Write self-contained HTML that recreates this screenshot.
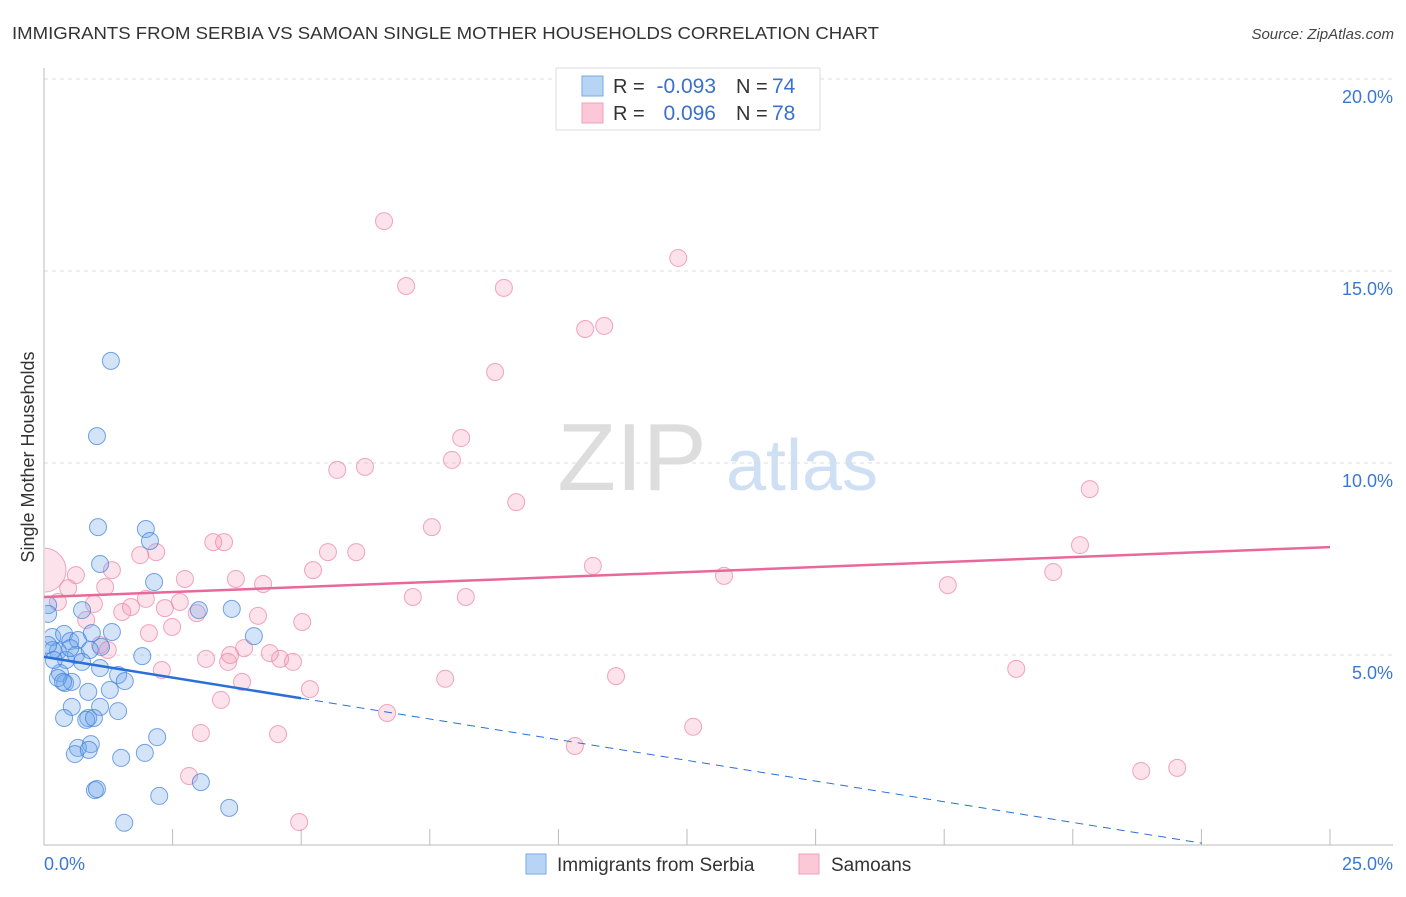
<!DOCTYPE html>
<html><head><meta charset="utf-8"><style>
body{margin:0;background:#fff;font-family:"Liberation Sans",sans-serif;}
svg text{font-family:"Liberation Sans",sans-serif;}
</style></head><body>
<svg id="chart" width="1406" height="892" xmlns="http://www.w3.org/2000/svg">
<defs><clipPath id="plotclip"><rect x="45" y="60" width="1360" height="785"/></clipPath></defs>
<text x="12" y="39" font-size="17.5" fill="#333" textLength="867" lengthAdjust="spacingAndGlyphs">IMMIGRANTS FROM SERBIA VS SAMOAN SINGLE MOTHER HOUSEHOLDS CORRELATION CHART</text>
<text x="1394" y="39" font-size="15" fill="#444" font-style="italic" text-anchor="end">Source: ZipAtlas.com</text>
<g>
<text x="632" y="490" font-size="96" fill="#ddd" font-family="Liberation Serif,serif" text-anchor="middle">ZIP</text>
<text x="802" y="490" font-size="72" fill="#cfe0f5" text-anchor="middle">atlas</text>
</g>
<g id="grid"></g>
<g id="axes"></g>
<g id="points" clip-path="url(#plotclip)"></g>
<g id="lines"></g>
<text transform="translate(34,457) rotate(-90)" font-size="18" fill="#333" text-anchor="middle">Single Mother Households</text>
<g>
<rect x="556" y="68" width="264" height="62" fill="#fff" stroke="#ddd"/>
<rect x="582" y="76" width="21" height="20" fill="#b8d4f5" stroke="#7aaae8"/>
<rect x="582" y="103" width="21" height="20" fill="#fcc8d8" stroke="#f0a0b8"/>
<text x="613" y="93" font-size="20" fill="#333">R =</text>
<text x="716" y="93" font-size="21" fill="#3a70d0" text-anchor="end">-0.093</text>
<text x="736" y="93" font-size="20" fill="#333">N =</text>
<text x="772" y="93" font-size="21" fill="#3a70d0">74</text>
<text x="613" y="120" font-size="20" fill="#333">R =</text>
<text x="716" y="120" font-size="21" fill="#3a70d0" text-anchor="end">0.096</text>
<text x="736" y="120" font-size="20" fill="#333">N =</text>
<text x="772" y="120" font-size="21" fill="#3a70d0">78</text>
</g>
<g>
<rect x="526" y="854" width="20" height="20" fill="#b8d4f5" stroke="#7aaae8"/>
<text x="557" y="871" font-size="19" fill="#333">Immigrants from Serbia</text>
<rect x="799" y="854" width="20" height="20" fill="#fcc8d8" stroke="#f0a0b8"/>
<text x="831" y="871" font-size="19" fill="#333">Samoans</text>
</g>
</svg>
<script>
const yTicks=[5,10,15,20];
const yTickLabels=["5.0%","10.0%","15.0%","20.0%"];
const xTickVals=[0,2.5,5,7.5,10,12.5,15,17.5,20,22.5,25];
const xEndLabels=["0.0%","25.0%"];
const serbiaX=[1.30,1.03,1.05,1.98,2.06,1.09,2.14,0.74,3.01,3.65,0.08,1.32,4.08,0.16,0.39,0.51,0.66,0.93,1.11,0.27,0.62,0.89,0.17,1.91,0.43,0.74,1.09,1.44,1.57,0.31,0.41,0.54,0.86,0.27,0.37,0.08,1.09,1.44,0.54,0.86,0.82,0.39,0.97,2.20,0.91,0.66,0.60,0.87,1.50,1.96,0.99,1.03,2.24,3.05,1.56,3.60,0.08,0.19,0.51,1.28];
const serbiaY=[12.66,10.70,8.33,8.28,7.97,7.37,6.90,6.17,6.17,6.20,6.30,5.60,5.49,5.47,5.55,5.36,5.39,5.57,5.21,5.10,5.00,5.13,5.13,4.97,4.87,4.82,4.66,4.48,4.32,4.53,4.27,4.30,4.04,4.40,4.30,5.26,3.65,3.54,3.65,3.36,3.31,3.36,3.36,2.86,2.68,2.58,2.42,2.53,2.32,2.45,1.48,1.51,1.33,1.69,0.63,1.02,6.07,4.87,5.18,4.09];
const samoanX=[6.61,12.33,7.04,8.94,10.89,10.52,8.77,8.11,7.93,5.70,6.24,20.33,9.18,7.54,20.14,3.29,3.50,1.87,2.18,5.52,6.07,10.67,5.23,19.62,13.22,0.62,1.32,2.74,3.73,4.26,17.57,1.19,7.17,8.20,0.47,0.27,0.97,1.98,2.64,1.69,2.35,1.52,2.97,4.16,5.02,2.04,2.49,1.09,3.89,4.39,4.59,4.84,3.15,3.58,2.29,18.90,11.12,7.80,3.85,5.17,3.44,6.67,3.05,4.55,12.62,10.32,2.82,21.33,22.03,4.96,0.82,1.24,3.62,0.0];
const samoanY=[16.30,15.34,14.61,14.56,13.57,13.49,12.37,10.65,10.08,9.82,9.90,9.32,8.98,8.33,7.86,7.94,7.94,7.60,7.68,7.68,7.68,7.32,7.21,7.16,7.06,7.08,7.21,6.98,6.98,6.85,6.82,6.77,6.51,6.51,6.74,6.38,6.33,6.46,6.38,6.25,6.22,6.12,6.09,6.02,5.86,5.57,5.73,5.26,5.18,5.05,4.90,4.82,4.90,4.82,4.61,4.64,4.45,4.38,4.30,4.11,3.83,3.49,2.97,2.94,3.13,2.63,1.85,1.98,2.06,0.65,5.91,5.13,5.00,7.21];
const serbiaFit=[4.95,-0.2155];
const samoanFit=[6.51,0.052];
const NS="http://www.w3.org/2000/svg";
const sx=v=>44+v/25*1286;
const sy=v=>847-v*38.4;
function mk(tag,attrs,parent){const e=document.createElementNS(NS,tag);for(const k in attrs)e.setAttribute(k,attrs[k]);parent.appendChild(e);return e;}
const grid=document.getElementById('grid'),axes=document.getElementById('axes'),pts=document.getElementById('points'),lines=document.getElementById('lines');
yTicks.forEach((t,i)=>{
 const l=mk('line',{x1:44,x2:1393,y1:sy(t),y2:sy(t),stroke:'#ddd','stroke-dasharray':'4,4'},grid);
 
 
 const tx=mk('text',{x:1393,y:sy(t)+24,'font-size':18,fill:'#3a78d8','text-anchor':'end'},axes);
 tx.textContent=yTickLabels[i];
 
 
});
const ax=mk('line',{x1:44,x2:1393,y1:845,y2:845,stroke:'#bbb'},axes);


const ay=mk('line',{x1:44,x2:44,y1:68,y2:845,stroke:'#bbb'},axes);


xTickVals.forEach(v=>{
 const t=mk('line',{x1:sx(v),x2:sx(v),y1:829,y2:845,stroke:'#bbb'},axes);
 
 
});
const xl0=mk('text',{x:44,y:870,'font-size':18,fill:'#3a78d8'},axes);xl0.textContent=xEndLabels[0];


const xl1=mk('text',{x:1393,y:870,'font-size':18,fill:'#3a78d8','text-anchor':'end'},axes);xl1.textContent=xEndLabels[1];


samoanX.forEach((v,i)=>{
 const big=(i===samoanX.length-1);
 const c=mk('circle',{cx:sx(v),cy:sy(samoanY[i]),r:big?22:8.5,fill:'rgba(245,150,180,0.28)',stroke:'rgba(235,130,165,0.7)','stroke-width':1},pts);
 
 
});
serbiaX.forEach((v,i)=>{
 const c=mk('circle',{cx:sx(v),cy:sy(serbiaY[i]),r:8.5,fill:'rgba(110,165,235,0.3)',stroke:'rgba(60,125,220,0.7)','stroke-width':1},pts);
 
 
});
const pl=mk('line',{x1:sx(0),y1:sy(samoanFit[0]),x2:sx(25),y2:sy(samoanFit[0]+25*samoanFit[1]),stroke:'#e8689a','stroke-width':2.5},lines);


const bl=mk('line',{x1:sx(0),y1:sy(serbiaFit[0]),x2:sx(5),y2:sy(serbiaFit[0]+5*serbiaFit[1]),stroke:'#2a6fd8','stroke-width':2.5},lines);


const xEnd=-serbiaFit[0]/serbiaFit[1]*0.98;
const bd=mk('line',{x1:sx(5),y1:sy(serbiaFit[0]+5*serbiaFit[1]),x2:sx(xEnd),y2:sy(serbiaFit[0]+xEnd*serbiaFit[1]),stroke:'#2a6fd8','stroke-width':1,'stroke-dasharray':'8,6'},lines);


</script>
</body></html>
